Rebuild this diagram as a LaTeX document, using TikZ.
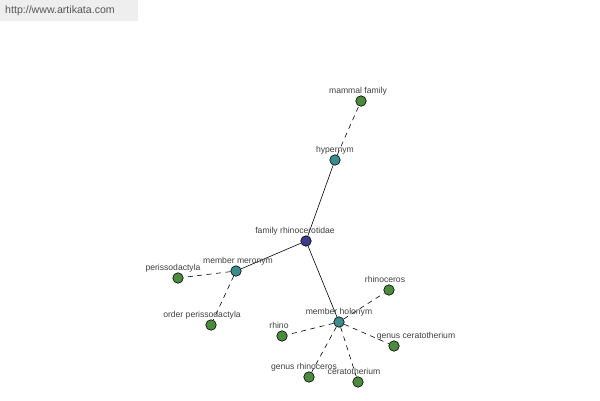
\documentclass[tikz,border=0pt]{standalone}
\usepackage{fontspec}
\setmainfont{Liberation Sans}
\begin{document}
\begin{tikzpicture}[x=1pt,y=-1pt,
  vtx/.style={circle,draw=black,line width=0.6pt,minimum size=10.5pt,inner sep=0pt},
  leaf/.style={vtx,fill=leafgreen},
  rel/.style={vtx,fill=relteal},
  root/.style={vtx,fill=rootblue},
  lbl/.style={font=\fontsize{8.6}{9}\selectfont,text=textgray,inner sep=0pt,anchor=base},
  solidedge/.style={draw=black,line width=0.6pt},
  dashedge/.style={draw=black,line width=0.6pt,dash pattern=on 5pt off 4.5pt}]
\definecolor{leafgreen}{HTML}{4C8A3E}
\definecolor{relteal}{HTML}{3C8C8E}
\definecolor{rootblue}{HTML}{3C3C8C}
\definecolor{textgray}{HTML}{404040}
\definecolor{urlbg}{HTML}{EEEEEE}
\definecolor{urltext}{HTML}{555555}
\useasboundingbox (0,0) rectangle (600,400);
\fill[white] (0,0) rectangle (600,400);
\fill[urlbg] (0,0) rectangle (138,21);
\node[font=\fontsize{10.6}{12}\selectfont,text=urltext,inner sep=0pt] (url) at (60,11) {http://www.artikata.com};
% nodes
\node[root] (fam) at (306,241) {};
\node[rel] (hyp) at (335,160) {};
\node[leaf] (mam) at (361,101) {};
\node[rel] (mer) at (236,271) {};
\node[leaf] (per) at (178,278) {};
\node[leaf] (ord) at (211,325) {};
\node[rel] (hol) at (339,322) {};
\node[leaf] (rhc) at (389,290) {};
\node[leaf] (rhi) at (282,336) {};
\node[leaf] (gce) at (394,346) {};
\node[leaf] (grh) at (309,377) {};
\node[leaf] (cer) at (358,382) {};
% edges
\begin{scope}[on background layer/.style={}]
\end{scope}
\path[solidedge] (fam) -- (hyp);
\path[solidedge] (fam) -- (mer);
\path[solidedge] (fam) -- (hol);
\path[dashedge] (hyp) -- (mam);
\path[dashedge] (mer) -- (per);
\path[dashedge] (mer) -- (ord);
\path[dashedge] (hol) -- (rhc);
\path[dashedge] (hol) -- (rhi);
\path[dashedge] (hol) -- (gce);
\path[dashedge] (hol) -- (grh);
\path[dashedge] (hol) -- (cer);
% labels
\node[lbl] (lmam) at (358,93) {mammal family};
\node[lbl] (lhyp) at (335,152) {hypernym};
\node[lbl] (lfam) at (295,233) {family rhinocerotidae};
\node[lbl] (lmer) at (238,263) {member meronym};
\node[lbl] (lper) at (173,270) {perissodactyla};
\node[lbl] (lord) at (202,317) {order perissodactyla};
\node[lbl] (lhol) at (339,314) {member holonym};
\node[lbl] (lrhc) at (385,282) {rhinoceros};
\node[lbl] (lrhi) at (279,328) {rhino};
\node[lbl] (lgce) at (416,338) {genus ceratotherium};
\node[lbl] (lgrh) at (304,369) {genus rhinoceros};
\node[lbl] (lcer) at (354,374) {ceratotherium};
\end{tikzpicture}
\end{document}
